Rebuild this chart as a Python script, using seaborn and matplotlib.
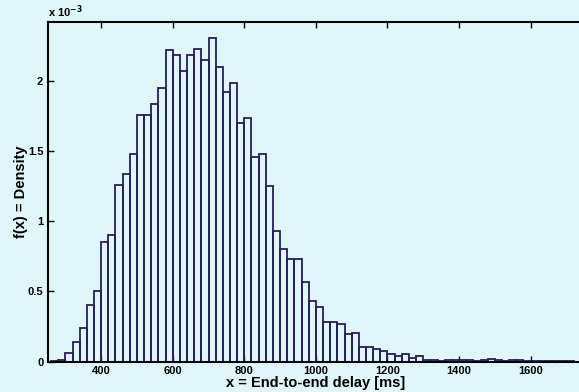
import numpy as np
import pandas as pd
import matplotlib
matplotlib.use("Agg")
import matplotlib.pyplot as plt
import seaborn as sns
from matplotlib.ticker import FuncFormatter

# bin starts (ms), 20 ms wide bins
bin_width = 20
bin_start = np.arange(260, 1720, bin_width)

# density per bin, in units of 1e-3
density_e3 = [
    0.005, 0.01, 0.062, 0.14, 0.24, 0.405, 0.505, 0.85, 0.90, 1.26,
    1.34, 1.48, 1.76, 1.76, 1.84, 1.95, 2.22, 2.19, 2.07, 2.19,
    2.23, 2.15, 2.31, 2.10, 1.92, 1.99, 1.70, 1.74, 1.46, 1.48,
    1.25, 0.93, 0.805, 0.73, 0.73, 0.57, 0.43, 0.39, 0.285, 0.285,
    0.27, 0.193, 0.205, 0.107, 0.107, 0.09, 0.074, 0.05, 0.036, 0.05,
    0.026, 0.04, 0.012, 0.012, 0.007, 0.012, 0.012, 0.012, 0.008, 0.007,
    0.01, 0.015, 0.01, 0.005, 0.012, 0.012, 0.005, 0.004, 0.003, 0.003,
    0.002, 0.002, 0.002,
]

x_ticks = [400, 600, 800, 1000, 1200, 1400, 1600]
y_ticks = [0, 0.5e-3, 1e-3, 1.5e-3, 2e-3]

bg = "#e0f7f9"
edge = "#2c1c5c"

sns.set_style("ticks")
plt.rcParams["font.family"] = ["Liberation Sans", "DejaVu Sans"]
plt.rcParams["font.weight"] = "bold"
plt.rcParams["text.color"] = "black"

fig = plt.figure(figsize=(5.79, 3.92), dpi=100, facecolor=bg)
ax = fig.add_axes([47.5 / 579, 30.5 / 392, (584.3 - 47.5) / 579, (361.5 - 22.3) / 392])
ax.set_facecolor(bg)

df = pd.DataFrame({
    "delay": bin_start + bin_width / 2,
    "density": np.array(density_e3) * 1e-3,
})
sns.histplot(data=df, x="delay", weights="density", binwidth=bin_width,
             binrange=(bin_start[0], bin_start[-1] + bin_width),
             stat="count", fill=False, color=edge, linewidth=1.3, ax=ax)

ax.set_xlim(250, 1750)
ax.set_ylim(0, 2.42e-3)
ax.set_xticks(x_ticks)
ax.set_yticks(y_ticks)
ax.yaxis.set_major_formatter(FuncFormatter(lambda v, p: f"{v * 1e3:g}"))

ax.tick_params(direction="in", length=4, width=1, labelsize=8, pad=3,
               top=True, right=False, colors="black", labelcolor="black")
for lab in ax.get_xticklabels() + ax.get_yticklabels():
    lab.set_fontweight("bold")
for s in ax.spines.values():
    s.set_visible(True)
    s.set_linewidth(1.5)
    s.set_color("black")

ax.set_xlabel("x = End-to-end delay [ms]", fontsize=10.5, fontweight="bold",
              labelpad=0, color="black")
ax.set_ylabel("f(x) = Density", fontsize=10.5, fontweight="bold",
              labelpad=0, color="black")
ax.text(0, 1.006, r"x 10$^{-3}$", transform=ax.transAxes, fontsize=8,
        fontweight="bold", va="bottom", ha="left", color="black")

fig.savefig("out.png", dpi=100, facecolor=bg)
